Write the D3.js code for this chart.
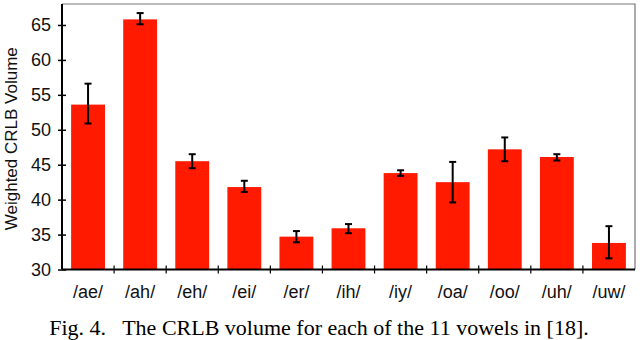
<!DOCTYPE html>
<html><head><meta charset="utf-8">
<script src="https://cdn.jsdelivr.net/npm/d3@7"></script>
<style>body{margin:0;background:#fff}</style>
</head><body>
<svg id="c" width="640" height="340"></svg>
<script>
const categories = ["/ae/","/ah/","/eh/","/ei/","/er/","/ih/","/iy/","/oa/","/oo/","/uh/","/uw/"];
const values     = [53.6, 65.8, 45.5, 41.8, 34.7, 35.9, 43.8, 42.5, 47.2, 46.1, 33.8];
const errLow     = [50.9, 65.1, 44.5, 41.1, 33.9, 35.2, 43.4, 39.6, 45.5, 45.6, 31.6];
const errHigh    = [56.6, 66.7, 46.5, 42.7, 35.5, 36.5, 44.2, 45.4, 48.9, 46.5, 36.2];
const yTicks     = [30, 35, 40, 45, 50, 55, 60, 65];
const caption    = "Fig. 4.   The CRLB volume for each of the 11 vowels in [18].";

const svg = d3.select("#c");
const L = 62, R = 635, T = 4, B = 269.5;
const x = d3.scaleBand().domain(categories).range([L, R]).paddingInner(0.35).paddingOuter(0.175);
const y = d3.scaleLinear().domain([30, 68]).range([B, T]);
const data = categories.map((c,i)=>({c, v:values[i], lo:errLow[i], hi:errHigh[i]}));
const sans = "Liberation Sans, Arial, sans-serif";

// frame top/right
svg.append("path").attr("d",`M${L},${T}H${R}V${B}`).attr("fill","none").attr("stroke","#777").attr("stroke-width",1.2);

// bars
svg.selectAll("rect.bar").data(data).join("rect")
  .attr("x",d=>x(d.c)).attr("width",x.bandwidth())
  .attr("y",d=>y(d.v)).attr("height",d=>B-y(d.v))
  .attr("fill","#ff1a00");

// error bars
const eb = svg.selectAll("g.eb").data(data).join("g");
const cx = d=>x(d.c)+x.bandwidth()/2;
eb.append("line").attr("x1",cx).attr("x2",cx).attr("y1",d=>y(d.lo)).attr("y2",d=>y(d.hi)).attr("stroke","#000").attr("stroke-width",2);
eb.append("line").attr("x1",d=>cx(d)-3.5).attr("x2",d=>cx(d)+3.5).attr("y1",d=>y(d.lo)).attr("y2",d=>y(d.lo)).attr("stroke","#000").attr("stroke-width",2);
eb.append("line").attr("x1",d=>cx(d)-3.5).attr("x2",d=>cx(d)+3.5).attr("y1",d=>y(d.hi)).attr("y2",d=>y(d.hi)).attr("stroke","#000").attr("stroke-width",2);

// y axis
const ya = svg.append("g").attr("transform",`translate(${L},0)`)
  .call(d3.axisLeft(y).tickValues(yTicks).tickSize(4).tickPadding(7));
ya.select(".domain").attr("stroke","#000").attr("stroke-width",2).attr("d",`M0,${B}V${T}`);
ya.selectAll(".tick line").attr("x1",-4).attr("x2",4).attr("stroke-width",1.5);
ya.selectAll(".tick text").attr("font-family",sans).attr("font-size",18).attr("fill","#111");

// x axis
const xa = svg.append("g").attr("transform",`translate(0,${B})`);
xa.append("line").attr("x1",L).attr("x2",R).attr("stroke","#000").attr("stroke-width",2);
const step = x.step();
xa.selectAll("line.tk").data(categories.slice(1)).join("line")
  .attr("x1",d=>x(d)-step*0.175).attr("x2",d=>x(d)-step*0.175).attr("y1",-4).attr("y2",4)
  .attr("stroke","#000").attr("stroke-width",1.2);
xa.selectAll("text").data(categories).join("text")
  .attr("x",d=>x(d)+x.bandwidth()/2).attr("y",28).attr("text-anchor","middle")
  .attr("font-family",sans).attr("font-size",18).attr("fill","#111").text(d=>d);

// y label
svg.append("text").attr("transform",`translate(17,${(T+B)/2+2}) rotate(-90)`).attr("text-anchor","middle")
  .attr("font-family",sans).attr("font-size",17).attr("fill","#111").text("Weighted CRLB Volume");

// caption
svg.append("text").attr("x",319).attr("y",335).attr("text-anchor","middle").attr("xml:space","preserve")
  .style("white-space","pre")
  .attr("font-family","Liberation Serif, Times New Roman, serif").attr("font-size",22).attr("fill","#000").text(caption);
</script>
</body></html>
